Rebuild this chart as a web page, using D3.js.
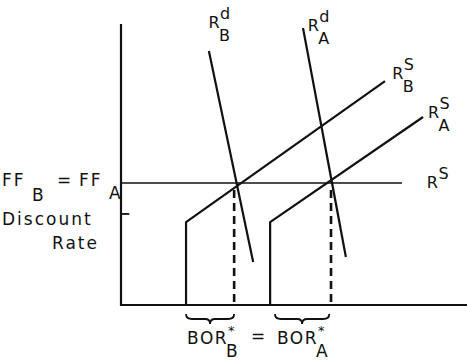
<!DOCTYPE html>
<html>
<head>
<meta charset="utf-8">
<script src="https://cdn.jsdelivr.net/npm/d3@7"></script>
<style>
  body { margin: 0; background: #fff; }
  svg text { font-family: "DejaVu Sans", sans-serif; fill: #111; }
</style>
</head>
<body>
<div id="chart"></div>
<script>
///// Data (quantity of reserves 0..100, interest rate 0..100)

let ffRate = 43.4,
    discountRate = 32.4,
    kinkRate = 29.5;

// supply curves: vertical at borrowed-reserve start, then upward slope
let supplyB = [[18.8, 0], [18.8, kinkRate], [76.3, 79.7]],
    supplyA = [[43.1, 0], [43.1, kinkRate], [87.3, 66.9]];

// demand curves
let demandB = [[25.4, 90.4], [38.2, 15.3]],
    demandA = [[52.6, 98.6], [65.0, 17.1]];

// equilibrium quantities (dashed drop lines)
let equilibria = [32.7, 60.7];

// horizontal R^S segment
let rsLine = [[0, ffRate], [81.2, ffRate]];

// braces under the axis: [from, to]
let braces = [[18.8, 32.7], [44.5, 60.2]];

// curve labels: base, superscript, subscript, anchor position
let curveLabels = [
    { base: "R", sup: "d", sub: "B", q: 25.3, r: 98.5 },
    { base: "R", sup: "d", sub: "A", q: 54.0, r: 97.5 },
    { base: "R", sup: "S", sub: "B", q: 78.4, r: 80.5 },
    { base: "R", sup: "S", sub: "A", q: 88.7, r: 66.5 },
    { base: "R", sup: "S", sub: "", q: 88.4, r: 41.6 }
];


///// D3

let width = 467,
    height = 361;

let x = d3.scaleLinear().domain([0, 100]).range([121, 467]);
let y = d3.scaleLinear().domain([0, 100]).range([305, 24]);

let line = d3.line()
    .x(function(d) { return x(d[0]); })
    .y(function(d) { return y(d[1]); });

let svg = d3.select("#chart")
    .append("svg")
    .attr("width", width)
    .attr("height", height);

// axes
svg.append("path")
    .attr("d", line([[0, 100], [0, 0], [100, 0]]))
    .attr("fill", "none")
    .attr("stroke", "#111")
    .attr("stroke-width", 2.2);

// discount rate tick
svg.append("path")
    .attr("d", line([[0, discountRate], [2.4, discountRate]]))
    .attr("stroke", "#111")
    .attr("stroke-width", 1.8);

// FF = R^S horizontal line
svg.append("path")
    .attr("d", line(rsLine))
    .attr("stroke", "#111")
    .attr("stroke-width", 1.6);

// supply and demand curves
[supplyB, supplyA, demandB, demandA].forEach(function(pts) {
    svg.append("path")
        .attr("d", line(pts))
        .attr("fill", "none")
        .attr("stroke", "#111")
        .attr("stroke-width", 2.2)
        .attr("stroke-linejoin", "round");
});

// dashed drop lines
equilibria.forEach(function(q) {
    svg.append("path")
        .attr("d", line([[q, ffRate - 2.5], [q, 0]]))
        .attr("stroke", "#111")
        .attr("stroke-width", 2.6)
        .attr("stroke-dasharray", "8,5");
});

// braces
braces.forEach(function(b) {
    let x0 = x(b[0]), x1 = x(b[1]), xm = (x0 + x1) / 2,
        y0 = y(0) + 9, y1 = y0 + 5, y2 = y1 + 5;
    let d = `M${x0},${y0} Q${x0},${y1} ${x0 + 6},${y1} L${xm - 5},${y1} Q${xm},${y1} ${xm},${y2}` +
        ` Q${xm},${y1} ${xm + 5},${y1} L${x1 - 6},${y1} Q${x1},${y1} ${x1},${y0}`;
    svg.append("path")
        .attr("d", d)
        .attr("fill", "none")
        .attr("stroke", "#111")
        .attr("stroke-width", 1.8);
});

// curve labels
function subSup(g, lab, px, py, size) {
    g.append("text")
        .attr("x", px).attr("y", py)
        .style("font-size", size + "px")
        .text(lab.base);
    let w = size * 0.72;
    g.append("text")
        .attr("x", px + w).attr("y", py - size * 0.55)
        .style("font-size", size + "px")
        .text(lab.sup);
    if (lab.sub) {
        g.append("text")
            .attr("x", px + w - 1).attr("y", py + size * 0.8)
            .style("font-size", size + "px")
            .text(lab.sub);
    }
}

let labelG = svg.append("g");
curveLabels.forEach(function(lab) {
    subSup(labelG, lab, x(lab.q), y(lab.r), 16);
});

// left labels
let leftG = svg.append("g").style("font-size", "17px").style("letter-spacing", "2px");
leftG.append("text").attr("x", 2).attr("y", y(ffRate) + 3).text("FF");
leftG.append("text").attr("x", 32).attr("y", y(ffRate) + 18).text("B");
leftG.append("text").attr("x", 57).attr("y", y(ffRate) + 3).text("=");
leftG.append("text").attr("x", 79).attr("y", y(ffRate) + 3).text("FF");
leftG.append("text").attr("x", 109).attr("y", y(ffRate) + 16).text("A");
leftG.append("text").attr("x", 2).attr("y", y(discountRate) + 11).text("Discount");
leftG.append("text").attr("x", 52).attr("y", y(discountRate) + 35).text("Rate");

// bottom labels
let bottomG = svg.append("g").style("font-size", "17px").style("letter-spacing", "1.5px");
function borLabel(px, sub) {
    bottomG.append("text").attr("x", px).attr("y", 344).text("BOR");
    bottomG.append("text").attr("x", px + 41).attr("y", 335).style("font-size", "13px").text("*");
    bottomG.append("text").attr("x", px + 39).attr("y", 357).text(sub);
}
borLabel(x(braces[0][0]) + 1, "B");
borLabel(x(braces[1][0]) + 2, "A");
bottomG.append("text").attr("x", 251).attr("y", 342).text("=");
</script>
</body>
</html>
